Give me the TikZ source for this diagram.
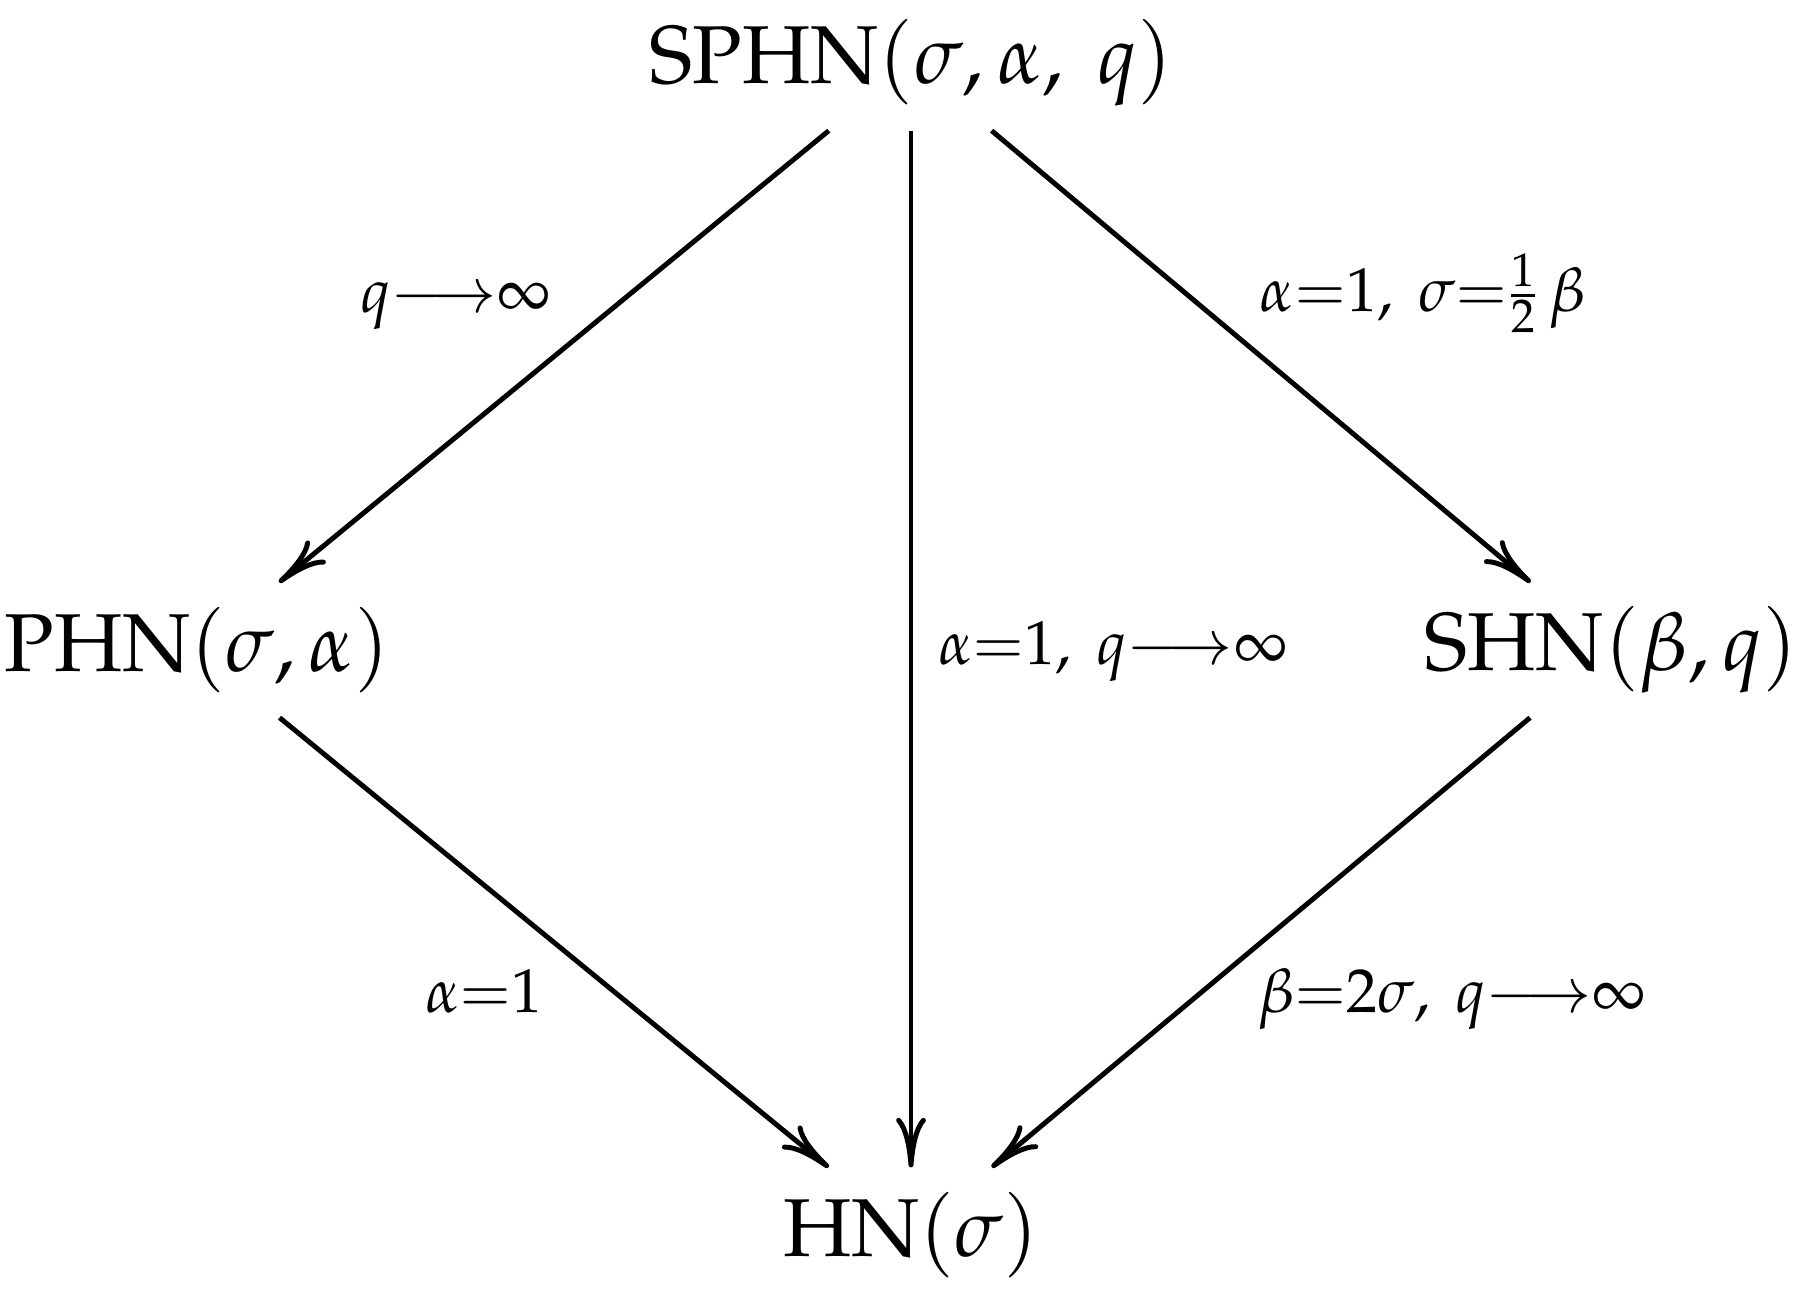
\documentclass[tikz,border=0pt]{standalone}
\usepackage[T1]{fontenc}
\usepackage{mathpazo}
\usepackage{amsmath}
\usetikzlibrary{arrows.meta}

\begin{document}
\begin{tikzpicture}[
  x=0.303pt, y=-0.303pt,
  every node/.style = {inner sep=0pt, outer sep=0pt},
  model/.style = {font=\Huge, minimum height=41pt},
  limit/.style = {font=\fontsize{18.8}{22}\selectfont, anchor=base},
  arrow/.style = {-{To[length=15pt, width=9pt]}, line width=1.5pt}
]
\useasboundingbox (0,0) rectangle (1804,1299);

% Top: general model
\node[model] (SPHN) at (911,63) {SPHN$(\sigma,\alpha,\ q)$};

% Middle row: special cases
\node[model] (PHN) at (197,650) {PHN$(\sigma,\alpha)$};
\node[model] (SHN) at (1611,650) {SHN$(\beta,q)$};

% Bottom: limit model
\node[model] (HN) at (911,1235) {HN$(\sigma)$};

% === ARROWS ===
\draw[arrow] (SPHN) -- (PHN);
\draw[arrow] (SPHN) -- (SHN);
\draw[arrow] (SPHN) -- (HN);
\draw[arrow] (PHN) -- (HN);
\draw[arrow] (SHN) -- (HN);

% === LIMIT LABELS ===
\node[limit] (Lq) at (456,312) {$q{\longrightarrow}\infty$};
\node[limit] (La) at (1423,311) {$\alpha{=}1,\ \sigma{=}\tfrac{1}{2}\,\beta$};
\node[limit] (Laq) at (1113,664) {$\alpha{=}1,\ q{\longrightarrow}\infty$};
\node[limit] (Lone) at (484,1012) {$\alpha{=}1$};
\node[limit] (Lbq) at (1452,1012) {$\beta{=}2\sigma,\ q{\longrightarrow}\infty$};

\end{tikzpicture}
\end{document}
